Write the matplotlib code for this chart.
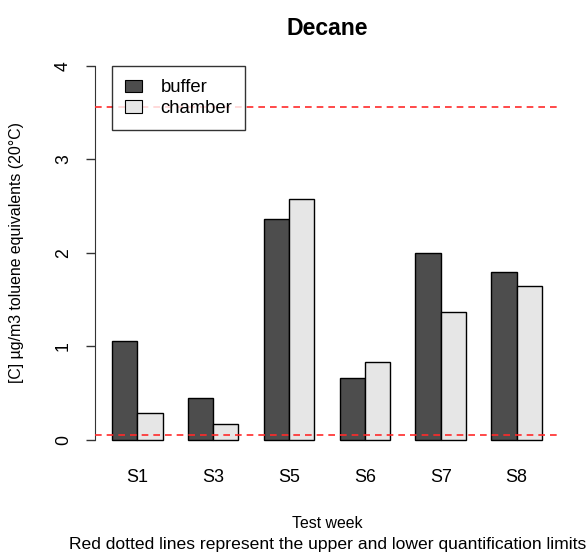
import matplotlib
matplotlib.use("Agg")
import matplotlib.pyplot as plt
import numpy as np
from matplotlib.patches import Patch

plt.rcParams['font.family'] = ['Liberation Sans', 'DejaVu Sans']

weeks = ["S1", "S3", "S5", "S6", "S7", "S8"]
buffer = [1.06, 0.45, 2.36, 0.66, 2.00, 1.80]
chamber = [0.29, 0.175, 2.58, 0.83, 1.37, 1.65]
limits = [0.05, 3.56]  # lower / upper quantification limits

dark = "#4d4d4d"
light = "#e6e6e6"

fig = plt.figure(figsize=(5.88, 5.59), dpi=100)
ax = fig.add_axes([0.1612, 0.2129, 0.9507 - 0.1612, 0.882 - 0.2129])

# grouped bars, barplot style: width 1, one-bar gap between groups
left = 1 + 3 * np.arange(len(weeks))
ax.bar(left, buffer, width=1, align="edge", color=dark, edgecolor="black",
       linewidth=1, clip_on=False, zorder=2)
ax.bar(left + 1, chamber, width=1, align="edge", color=light, edgecolor="black",
       linewidth=1, clip_on=False, zorder=2)

for lim in limits:
    ax.axhline(lim, color="#ff2a2a", linewidth=1.2, linestyle=(0, (4, 3)), zorder=3)

ax.set_xlim(0.32, 18.68)
ax.set_ylim(0, 4)

for side in ["top", "right", "bottom"]:
    ax.spines[side].set_visible(False)
ax.spines["left"].set_bounds(0, 4)
ax.spines["left"].set_color("#333333")

ax.set_yticks([0, 1, 2, 3, 4])
ax.set_yticklabels(["0", "1", "2", "3", "4"], rotation=90, va="center")
ax.tick_params(axis="y", length=6.5, width=1, pad=10, labelsize=12.7, color="#333333")
ax.set_xticks(left + 1)
ax.set_xticklabels(weeks)
ax.tick_params(axis="x", length=0, pad=21, labelsize=12.9)

ax.set_ylabel("[C] µg/m3 toluene equivalents (20°C)", fontsize=11.4, labelpad=22)
ax.set_title("Decane", fontsize=16.6, fontweight="bold", pad=22)

fig.text(0.5565, 1 - 524 / 559, "Test week", ha="center", va="center", fontsize=11.4)
fig.text(0.5565, 1 - 545 / 559,
         "Red dotted lines represent the upper and lower quantification limits",
         ha="center", va="center", fontsize=12.6)

handles = [Patch(facecolor=dark, edgecolor="black", linewidth=0.8),
           Patch(facecolor=light, edgecolor="black", linewidth=0.8)]
leg = ax.legend(handles, ["buffer", "chamber"], loc="upper left",
                bbox_to_anchor=(1, 4), bbox_transform=ax.transData,
                fontsize=13.3, frameon=True, fancybox=False, borderaxespad=0,
                borderpad=0.72, handlelength=0.9, handleheight=0.65,
                handletextpad=1.0, labelspacing=0.2)
leg.get_frame().set_edgecolor("black")
leg.get_frame().set_linewidth(1)
leg.set_zorder(5)

fig.savefig("out.png", dpi=100)
